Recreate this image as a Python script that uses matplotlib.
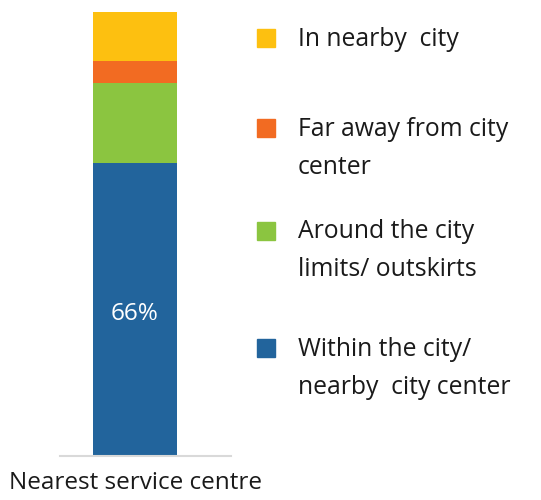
import matplotlib.pyplot as plt
from matplotlib.patches import Rectangle

plt.rcParams['font.family'] = ['Open Sans', 'DejaVu Sans']

category = 'Nearest service centre'
labels = ['Within the city/\nnearby  city center',
          'Around the city\nlimits/ outskirts',
          'Far away from city\ncenter',
          'In nearby  city']
values = [66, 18, 5, 11]
colors = ['#22649c', '#8bc540', '#f26b22', '#fdc010']

W, H = 541, 500
fig = plt.figure(figsize=(W / 100, H / 100), dpi=100)
ax = fig.add_axes([60 / W, 44 / H, 171 / W, 444 / H])

bottom = 0
for v, c in zip(values, colors):
    ax.bar(0, v, width=1, bottom=bottom, color=c)
    bottom += v

ax.text(0, values[0] / 2 - 1, f'{values[0]}%', color='white', fontsize=17.5,
        ha='center', va='center')

ax.set_xlim(-0.893, 1.143)
ax.set_ylim(0, sum(values))
for s in ['top', 'right', 'left']:
    ax.spines[s].set_visible(False)
ax.spines['bottom'].set_color('#d9d9d9')
ax.spines['bottom'].set_linewidth(1.5)
ax.set_yticks([])
ax.set_xticks([0])
ax.set_xticklabels([category], fontsize=17.5, color='#1a1a1a')
ax.tick_params(axis='x', length=0, pad=11)

# legend, top to bottom, square centres in pixels from the top
legend_y = [38, 128, 231, 348]
for lab, c, y in zip(labels[::-1], colors[::-1], legend_y):
    fig.add_artist(Rectangle(((257) / W, 1 - (y + 9) / H), 18 / W, 18 / H,
                             transform=fig.transFigure, color=c))
    for k, line in enumerate(lab.split('\n')):
        fig.text(298 / W, 1 - (y + 1 + k * 38) / H, line, fontsize=17.8,
                 color='#1a1a1a', va='center', ha='left')

plt.savefig('out.png', dpi=100)
